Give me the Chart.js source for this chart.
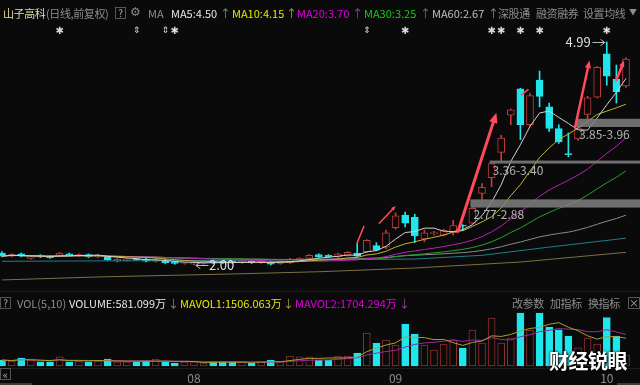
<!DOCTYPE html>
<html lang="zh-CN">
<head>
<meta charset="UTF-8" />
<title>山子高科 日线</title>
<script src="https://cdn.jsdelivr.net/npm/chart.js"></script>
<style>
  * { box-sizing: border-box; }
  body { margin: 0; background: #0a0a0a; font-family: "Noto Sans CJK SC", "Noto Sans", sans-serif; }
  .wrap { position: relative; width: 640px; height: 385px; overflow: hidden; background: #0a0a0a; }
  #kline { position: absolute; left: 0; top: 0; }
  .lbl { position: absolute; white-space: nowrap; font-size: 11px; line-height: 14px; }
  .cn { letter-spacing: -0.4px; }
  .box { position: absolute; width: 11px; height: 12px; border: 1px solid #555; color: #aaa;
         font-size: 10px; line-height: 10px; text-align: center; }
  .wm { position: absolute; left: 549px; top: 346px; color: #fff; font-size: 20px; font-weight: bold;
        letter-spacing: -0.5px; text-shadow: 0 0 3px #000, 1px 1px 2px #000; }
</style>
</head>
<body>
<div class="wrap">
  <canvas id="kline" width="640" height="385"></canvas>

  <!-- price panel header -->
  <span class="lbl cn" style="left:3px;top:6px;color:#e4dca8">山子高科</span>
  <span class="lbl cn" style="left:46px;top:6px;color:#8c8c8c">(日线,前复权)</span>
  <span class="box" style="left:115px;top:7px">?</span>
  <span class="lbl" style="left:130px;top:5px;color:#888;font-family:'DejaVu Sans';font-size:12px">⚙</span>
  <span class="lbl" style="left:148px;top:6px;color:#8c8c8c">MA</span>
  <span class="lbl" style="left:171px;top:6px;color:#e8e8e8">MA5:4.50</span>
  <span class="lbl" style="left:220px;top:6px;color:#888">↑</span>
  <span class="lbl" style="left:232px;top:6px;color:#e6e600">MA10:4.15</span>
  <span class="lbl" style="left:286px;top:6px;color:#a0a040">↑</span>
  <span class="lbl" style="left:297px;top:6px;color:#e000e0">MA20:3.70</span>
  <span class="lbl" style="left:352px;top:6px;color:#a040a0">↑</span>
  <span class="lbl" style="left:364px;top:6px;color:#10d010">MA30:3.25</span>
  <span class="lbl" style="left:420px;top:6px;color:#30a030">↑</span>
  <span class="lbl" style="left:432px;top:6px;color:#c0c0c0">MA60:2.67</span>
  <span class="lbl" style="left:488px;top:6px;color:#888">↑</span>
  <span class="lbl cn" style="left:498px;top:6px;color:#8c8c8c">深股通</span>
  <span class="lbl cn" style="left:536px;top:6px;color:#8c8c8c">融资融券</span>
  <span class="lbl cn" style="left:583px;top:6px;color:#8c8c8c">设置均线</span>
  <span class="lbl" style="left:629px;top:5px;color:#8c8c8c;font-size:8px">▼</span>

  <!-- volume panel header -->
  <span class="box" style="left:0;top:297px">?</span>
  <span class="lbl" style="left:17px;top:296px;color:#8c8c8c">VOL(5,10)</span>
  <span class="lbl" style="left:69px;top:296px;color:#e8e8e8">VOLUME:581.099万</span>
  <span class="lbl" style="left:168px;top:296px;color:#888">↓</span>
  <span class="lbl" style="left:180px;top:296px;color:#e6e600">MAVOL1:1506.063万</span>
  <span class="lbl" style="left:283px;top:296px;color:#a0a040">↓</span>
  <span class="lbl" style="left:295px;top:296px;color:#e000e0">MAVOL2:1704.294万</span>
  <span class="lbl" style="left:399px;top:296px;color:#a040a0">↓</span>
  <span class="lbl cn" style="left:512px;top:296px;color:#8c8c8c">改参数</span>
  <span class="lbl cn" style="left:550px;top:296px;color:#8c8c8c">加指标</span>
  <span class="lbl cn" style="left:588px;top:296px;color:#8c8c8c">换指标</span>
  <span class="box" style="left:628px;top:297px;width:12px">×</span>

  <span class="box" style="left:0;top:368px;font-size:11px">«</span>
  <div class="wm">财经锐眼</div>
</div>

<script>
  // daily candles, index 0..65
  const opens = [
    2.16, 2.12, 2.15, 2.09, 2.13, 2.12, 2.13, 2.15, 2.12, 2.14,
    2.11, 2.11, 2.05, 2.06, 2.08, 2.08, 2.05, 2.07, 2.04, 2.02,
    2.01, 2.02, 2.06, 2.05, 2.05, 2.03, 2.05, 2.03, 2.04, 2.02,
    2.03, 2.07, 2.09, 2.14, 2.13, 2.11, 2.13, 2.16, 2.18, 2.26,
    2.24, 2.50, 2.67, 2.64, 2.35, 2.42, 2.40, 2.43, 2.53, 2.56,
    2.96, 3.17, 3.51, 4.01, 4.36, 3.88, 4.48, 4.12, 3.83, 3.49,
    3.69, 4.02, 4.25, 4.83, 4.49, 4.40
  ];
  const highs = [
    2.18, 2.15, 2.16, 2.12, 2.14, 2.13, 2.17, 2.16, 2.15, 2.15,
    2.14, 2.12, 2.09, 2.09, 2.09, 2.09, 2.10, 2.08, 2.05, 2.04,
    2.04, 2.05, 2.07, 2.06, 2.06, 2.07, 2.06, 2.06, 2.05, 2.06,
    2.09, 2.10, 2.14, 2.15, 2.14, 2.16, 2.18, 2.29, 2.34, 2.30,
    2.47, 2.70, 2.71, 2.68, 2.47, 2.45, 2.48, 2.60, 2.54, 2.77,
    3.09, 3.36, 3.74, 4.09, 4.37, 4.30, 4.60, 4.17, 3.88, 3.77,
    3.85, 4.26, 4.66, 4.99, 4.68, 4.78
  ];
  const lows = [
    2.11, 2.11, 2.11, 2.08, 2.10, 2.09, 2.12, 2.12, 2.11, 2.10,
    2.10, 2.06, 2.04, 2.05, 2.06, 2.04, 2.04, 2.02, 2.01, 2.01,
    2.00, 2.01, 2.02, 2.02, 2.02, 2.02, 2.02, 2.02, 2.00, 2.01,
    2.02, 2.06, 2.08, 2.10, 2.10, 2.10, 2.12, 2.11, 2.17, 2.19,
    2.22, 2.48, 2.51, 2.30, 2.31, 2.40, 2.39, 2.40, 2.46, 2.55,
    2.88, 3.05, 3.40, 3.88, 3.68, 3.86, 4.12, 3.79, 3.63, 3.45,
    3.67, 3.96, 4.24, 4.41, 4.17, 4.38
  ];
  const closes = [
    2.12, 2.14, 2.12, 2.11, 2.11, 2.10, 2.16, 2.13, 2.14, 2.11,
    2.13, 2.07, 2.08, 2.08, 2.07, 2.05, 2.07, 2.03, 2.02, 2.03,
    2.03, 2.04, 2.03, 2.03, 2.03, 2.06, 2.03, 2.05, 2.01, 2.05,
    2.08, 2.09, 2.13, 2.11, 2.11, 2.15, 2.17, 2.12, 2.33, 2.20,
    2.43, 2.66, 2.56, 2.39, 2.43, 2.43, 2.46, 2.53, 2.52, 2.76,
    3.04, 3.36, 3.70, 4.08, 3.88, 4.27, 4.26, 3.83, 3.65, 3.48,
    3.84, 4.24, 4.65, 4.53, 4.32, 4.76
  ];
  // volume, 万股
  const volumes = [
    320, 270, 430, 320, 220, 220, 490, 220, 270, 220,
    270, 380, 220, 220, 220, 270, 380, 220, 160, 220,
    220, 160, 220, 220, 220, 220, 160, 220, 320, 220,
    540, 490, 490, 320, 320, 540, 540, 700, 1780, 1240,
    1400, 1130, 2270, 1730, 1130, 860, 1190, 1400, 970, 1940,
    1240, 2590, 1240, 1510, 2860, 1940, 2860, 2100, 1950, 1620,
    980, 1510, 1190, 2620, 1620, 581.099
  ];
  const monthLabels = ["08", "09", "10"];
  const monthStart = [20, 41, 63];

  // long averages not listed in the header
  const ma120Idx = [0, 20, 33, 43, 50, 57, 65];
  const ma120Val = [2.05, 2.06, 2.07, 2.08, 2.13, 2.24, 2.36];
  const ma250Idx = [0, 10, 24, 33, 43, 54, 65];
  const ma250Val = [1.80, 1.84, 1.88, 1.91, 1.96, 2.04, 2.17];

  // unfilled gaps
  const gapLow = [2.77, 3.36, 3.85];
  const gapHigh = [2.88, 3.40, 3.96];
  const gapFrom = [49, 51, 60];

  // signal marks on the top row
  const markIdx = [6, 14, 17, 18, 38, 42, 51, 52, 54, 56, 63];
  const markKind = ["s", "d", "d", "s", "d", "s", "s", "s", "s", "s", "s"];

  const RED = "#c23c3c";
  const VRED = "#8e3030";
  const CYAN = "#1fe5ec";
  const BG = "#0a0a0a";

  const idx = closes.map((_, i) => i);
  const up = idx.map((i) => closes[i] >= opens[i]);

  const movingAvg = (arr, n) =>
    arr.map((_, i) => {
      const part = arr.slice(Math.max(0, i - n + 1), i + 1);
      return part.reduce((a, b) => a + b, 0) / part.length;
    });

  const lineSet = (points, color, axis) => ({
    type: "line",
    data: points,
    borderColor: color,
    borderWidth: 1,
    pointRadius: 0,
    yAxisID: axis,
    order: 0,
  });

  const maLines = [
    { n: 5, color: "#d2d2d2" },
    { n: 10, color: "#bdb43a" },
    { n: 20, color: "#b424b4" },
    { n: 30, color: "#2a9e2a" },
    { n: 60, color: "#8a8a8a" },
  ].map((m) => lineSet(movingAvg(closes, m.n).map((v, i) => ({ x: i, y: v })), m.color, "y"));

  const annotations = [
    { from: [37.0, 2.30], to: [37.7, 2.52], w: 1.5, head: 0 },
    { from: [39.3, 2.56], to: [41.0, 2.79], w: 1.5, head: 5 },
    { from: [47.5, 2.45], to: [51.5, 4.04], w: 3, head: 11 },
    { from: [54.1, 4.28], to: [54.8, 4.35], w: 1.5, head: 0 },
    { from: [59.7, 3.85], to: [61.2, 4.74], w: 2.5, head: 8 },
    { from: [64.0, 4.48], to: [64.8, 4.74], w: 2.5, head: 7 },
  ];

  const overlay = {
    id: "overlay",
    afterDatasetsDraw(chart) {
      const { ctx } = chart;
      const xs = chart.scales.x;
      const ys = chart.scales.y;
      const X = (i) => xs.getPixelForValue(i);
      const Y = (p) => ys.getPixelForValue(p);
      ctx.save();

      // panel borders
      ctx.fillStyle = "#1c1c1c";
      ctx.fillRect(0, 291, 640, 1);
      ctx.fillRect(0, 368, 640, 1);

      // gap bands
      ctx.font = "12px 'Noto Sans CJK SC'";
      ctx.textBaseline = "middle";
      gapLow.forEach((lo, k) => {
        const x0 = X(gapFrom[k]) - 2;
        const y0 = Y(gapHigh[k]);
        const y1 = Y(lo);
        ctx.fillStyle = "rgba(128,128,128,0.85)";
        ctx.fillRect(x0, y0, 640 - x0, Math.max(3, y1 - y0));
        ctx.fillStyle = "#b4b4b4";
        ctx.fillText(lo.toFixed(2) + "-" + gapHigh[k].toFixed(2), x0 + 3, y1 + 7);
      });

      // hand-drawn red arrows
      ctx.strokeStyle = "#ff4b5c";
      ctx.fillStyle = "#ff4b5c";
      ctx.lineCap = "round";
      annotations.forEach((a) => {
        const x1 = X(a.from[0]), y1 = Y(a.from[1]);
        const x2 = X(a.to[0]), y2 = Y(a.to[1]);
        const ang = Math.atan2(y2 - y1, x2 - x1);
        ctx.lineWidth = a.w;
        ctx.beginPath();
        ctx.moveTo(x1, y1);
        ctx.lineTo(x2 - Math.cos(ang) * a.head * 0.6, y2 - Math.sin(ang) * a.head * 0.6);
        ctx.stroke();
        if (a.head > 0) {
          ctx.beginPath();
          ctx.moveTo(x2, y2);
          ctx.lineTo(x2 - a.head * Math.cos(ang - 0.4), y2 - a.head * Math.sin(ang - 0.4));
          ctx.lineTo(x2 - a.head * Math.cos(ang + 0.4), y2 - a.head * Math.sin(ang + 0.4));
          ctx.closePath();
          ctx.fill();
        }
      });

      // highest / lowest price labels
      const hi = highs.indexOf(Math.max(...highs));
      const lo = lows.indexOf(Math.min(...lows));
      ctx.strokeStyle = "#bbb";
      ctx.fillStyle = "#dedede";
      ctx.lineWidth = 1;
      ctx.font = "13px 'Noto Sans CJK SC'";
      const hx = X(hi) - 2, hy = Math.round(Y(highs[hi])) + 0.5;
      ctx.beginPath();
      ctx.moveTo(hx - 12, hy); ctx.lineTo(hx, hy);
      ctx.moveTo(hx - 4, hy - 3); ctx.lineTo(hx, hy); ctx.lineTo(hx - 4, hy + 3);
      ctx.stroke();
      ctx.textAlign = "right";
      ctx.fillText(highs[hi].toFixed(2), hx - 14, hy);
      const lx = X(lo) + 2, ly = Math.round(Y(lows[lo])) + 0.5;
      ctx.beginPath();
      ctx.moveTo(lx, ly); ctx.lineTo(lx + 12, ly);
      ctx.moveTo(lx + 4, ly - 3); ctx.lineTo(lx, ly); ctx.lineTo(lx + 4, ly + 3);
      ctx.stroke();
      ctx.textAlign = "left";
      ctx.fillText(lows[lo].toFixed(2), lx + 13, ly);

      // signal marks
      ctx.fillStyle = "#d8d8d8";
      ctx.textAlign = "center";
      markIdx.forEach((i, k) => {
        ctx.font = markKind[k] === "s" ? "10px 'DejaVu Sans'" : "9px 'DejaVu Sans'";
        ctx.fillText(markKind[k] === "s" ? "✱" : "⇕", X(i), 31);
      });

      // month labels
      ctx.fillStyle = "#8c8c8c";
      ctx.font = "12px 'Noto Sans CJK SC'";
      monthLabels.forEach((m, k) => ctx.fillText(m, X(monthStart[k]), 378));

      // scroll bar stubs
      ctx.fillStyle = "#3a3a3a";
      ctx.fillRect(0, 383, 32, 2);
      ctx.fillRect(617, 383, 23, 2);
      ctx.restore();
    },
  };

  new Chart(document.getElementById("kline"), {
    type: "bar",
    data: {
      datasets: [
        ...maLines,
        lineSet(ma120Idx.map((i, k) => ({ x: i, y: ma120Val[k] })), "#1c7f8c", "y"),
        lineSet(ma250Idx.map((i, k) => ({ x: i, y: ma250Val[k] })), "#7a7044", "y"),
        lineSet(movingAvg(volumes, 5).map((v, i) => ({ x: i, y: v })), "#a8a030", "v"),
        lineSet(movingAvg(volumes, 10).map((v, i) => ({ x: i, y: v })), "#9a2a9a", "v"),
        {
          data: idx.map((i) => ({ x: i, y: [opens[i], closes[i]] })),
          backgroundColor: up.map((u) => (u ? BG : CYAN)),
          borderColor: up.map((u) => (u ? RED : CYAN)),
          borderWidth: 1,
          borderSkipped: false,
          barThickness: 7,
          minBarLength: 1,
          grouped: false,
          yAxisID: "y",
          order: 1,
        },
        {
          data: idx.map((i) => ({ x: i, y: [lows[i], highs[i]] })),
          backgroundColor: up.map((u) => (u ? RED : CYAN)),
          barThickness: 1,
          grouped: false,
          yAxisID: "y",
          order: 2,
        },
        {
          data: idx.map((i) => ({ x: i, y: volumes[i] })),
          backgroundColor: up.map((u) => (u ? BG : CYAN)),
          borderColor: up.map((u) => (u ? VRED : CYAN)),
          borderWidth: 1,
          borderSkipped: false,
          barThickness: 7,
          grouped: false,
          yAxisID: "v",
          order: 1,
        },
      ],
    },
    options: {
      responsive: false,
      animation: false,
      layout: { padding: 0 },
      plugins: { legend: { display: false }, tooltip: { enabled: false } },
      scales: {
        x: { type: "linear", min: -0.21, max: 66.46, offset: false, display: false },
        y: { min: 0.392, max: 5.552, display: false },
        v: { min: -1026, max: 19764, display: false },
      },
    },
    plugins: [overlay],
  });
</script>
</body>
</html>
